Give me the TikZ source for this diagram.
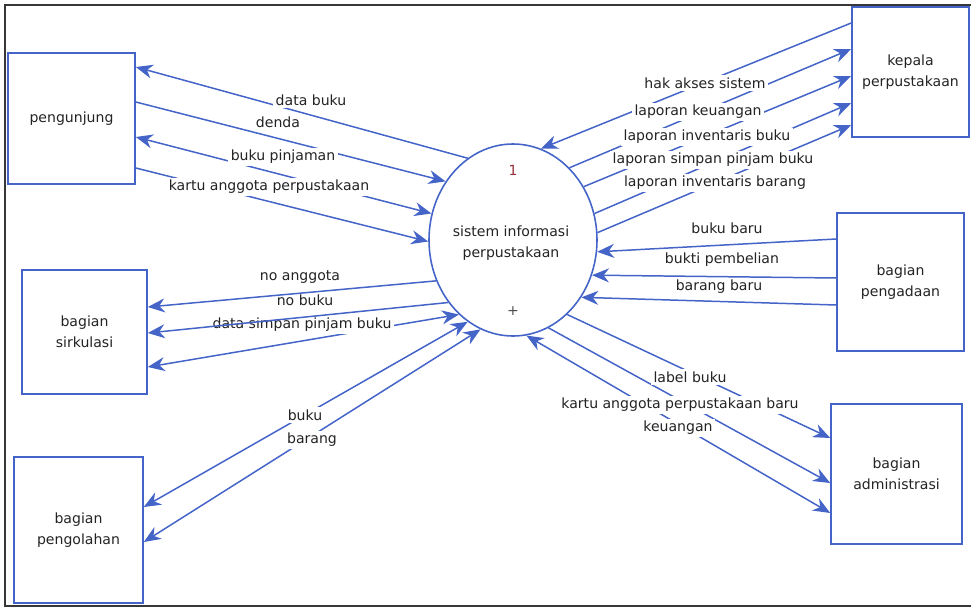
\documentclass[tikz,border=0pt]{standalone}
\usepackage{fontspec}
\setmainfont{DejaVu Sans}
\usetikzlibrary{arrows.meta,shapes.geometric}
\definecolor{flowblue}{RGB}{68,100,200}
\definecolor{framegray}{RGB}{55,55,55}
\definecolor{numred}{RGB}{150,50,60}
\definecolor{inktext}{RGB}{35,35,35}

\begin{document}
\begin{tikzpicture}[x=0.2mm,y=-0.2mm,
  >={Stealth[length=3.4mm,width=2.8mm,inset=1.1mm]},
  every node/.style={font=\fontsize{8}{12}\selectfont, text=inktext},
  entity/.style={draw=flowblue, line width=0.9pt, align=center, inner sep=0pt},
  process/.style={ellipse, draw=flowblue, line width=0.9pt, minimum width=33.6mm, minimum height=38.4mm, inner sep=0pt},
  flow/.style={draw=flowblue, fill=flowblue, line width=0.85pt},
  lbl/.style={fill=white, inner sep=1.5pt},
  tag/.style={inner sep=1pt}
]
\useasboundingbox (0,0) rectangle (971,610);

% outer frame
\draw[framegray, line width=0.8pt] (971,5) -- (5,5) -- (5,606) -- (971,606);

% external entities
\node[entity, minimum width=25.4mm, minimum height=26.2mm] (pgj) at (71.5,118.5) {pengunjung};
\node[entity, minimum width=25mm, minimum height=24.8mm] (sirk) at (84.5,332) {bagian\\sirkulasi};
\node[entity, minimum width=25.8mm, minimum height=29.2mm] (olah) at (78.5,530) {bagian\\pengolahan};
\node[entity, minimum width=23.4mm, minimum height=26mm] (kep) at (910.5,72) {kepala\\perpustakaan};
\node[entity, minimum width=25.4mm, minimum height=27.6mm] (ada) at (900.5,282) {bagian\\pengadaan};
\node[entity, minimum width=26.2mm, minimum height=28mm] (adm) at (896.5,474) {bagian\\administrasi};

% process
\node[process] (sys) at (513,240) {};
\node[tag, text=numred] (num) at (513,170) {1};
\node[tag, align=center] (sysname) at (511,243) {sistem informasi\\perpustakaan};
\node[tag, text=black!70] (plus) at (513,311) {+};

% pengunjung flows
\draw[flow, ->] (sys.119) -- (pgj.east |- 0,67);
\draw[flow, ->] (pgj.east |- 0,102) -- (sys.139);
\draw[flow, <->] (pgj.east |- 0,137) -- (sys.162);
\draw[flow, ->] (pgj.east |- 0,168) -- (sys.181);

% kepala perpustakaan flows
\draw[flow, ->] (kep.west |- 0,23) -- (sys.73);
\draw[flow, ->] (sys.52) -- (kep.west |- 0,49);
\draw[flow, ->] (sys.37) -- (kep.west |- 0,76);
\draw[flow, ->] (sys.18) -- (kep.west |- 0,103);
\draw[flow, ->] (sys.5) -- (kep.west |- 0,125);

% pengadaan flows
\draw[flow, ->] (ada.west |- 0,239) -- (sys.-8);
\draw[flow, ->] (ada.west |- 0,278) -- (sys.-24);
\draw[flow, ->] (ada.west |- 0,305) -- (sys.-40);

% administrasi flows
\draw[flow, ->] (sys.-54) -- (adm.west |- 0,438);
\draw[flow, ->] (sys.-68) -- (adm.west |- 0,483);
\draw[flow, <->] (sys.-82) -- (adm.west |- 0,513);

% pengolahan flows
\draw[flow, <->] (olah.east |- 0,507) -- (sys.241);
\draw[flow, <->] (olah.east |- 0,542) -- (sys.250);

% sirkulasi flow (both ways)
\draw[flow, <->] (sirk.east |- 0,367) -- (sys.234);

% flow labels
\node[lbl] (ldatabuku) at (311,100) {data buku};
\node[lbl] (ldenda) at (278,122) {denda};
\node[lbl] (lpinjam) at (283,157) {buku pinjaman};
\node[lbl] (lkartu) at (269,187) {kartu anggota perpustakaan};

\node[lbl] (lakses) at (705,83) {hak akses sistem};
\node[lbl] (luang) at (698,112) {laporan keuangan};
\node[lbl] (linvbuku) at (707,137) {laporan inventaris buku};
\node[lbl] (lsimpan) at (713,160) {laporan simpan pinjam buku};
\node[lbl] (linvbarang) at (715,183) {laporan inventaris barang};

\node[lbl] (lbukubaru) at (727,228) {buku baru};
\node[lbl] (lbukti) at (722,260) {bukti pembelian};
\node[lbl] (lbarangbaru) at (719,287) {barang baru};

\node[lbl] (llabel) at (690,377) {label buku};
\node[lbl] (lkartubaru) at (680,405) {kartu anggota perpustakaan baru};
\node[lbl] (lkeu) at (678,428) {keuangan};

\node[lbl] (lbuku) at (305,415) {buku};
\node[lbl] (lbarang) at (312,440) {barang};

\node[lbl] (ldspb) at (302,325) {data simpan pinjam buku};

% sirkulasi flows drawn over the label above
\draw[flow, ->] (sys.208) -- (sirk.east |- 0,307);
\draw[flow, ->] (sys.224) -- (sirk.east |- 0,333);
\node[tag] (lnoang) at (300,277) {no anggota};
\node[tag] (lnobuku) at (305,300) {no buku};

\end{tikzpicture}
\end{document}
